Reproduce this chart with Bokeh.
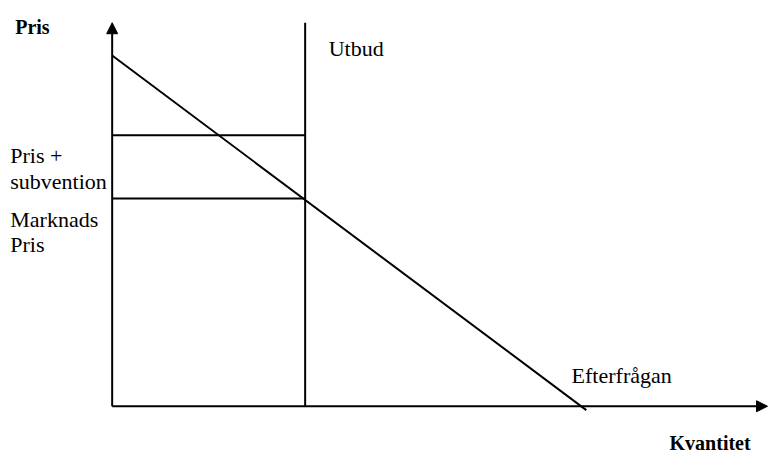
from bokeh.plotting import figure
from bokeh.models import Range1d, Arrow, NormalHead, ColumnDataSource
from bokeh.core.properties import value
from bokeh.embed import file_html
from bokeh.resources import INLINE

# Diagram values (abstract units: quantity / price)
axis_x_max = 66.9        # end of quantity axis (arrow tip)
axis_y_max = 39.7        # end of price axis (arrow tip)
demand_q = [0.0, 48.4]   # demand line quantity end points
demand_p = [36.3, -0.4]  # demand line price end points
supply_q = 19.7          # fixed supply (vertical)
supply_top = 39.7
market_price = 21.5
subsidy_price = 28.05

# Labels
label_texts = ["Pris +", "subvention", "Marknads", "Pris", "Utbud", "Efterfrågan"]
label_x = [-10.4, -10.4, -10.4, -10.4, 22.1, 46.9]
label_y = [26.0, 23.3, 19.3, 16.7, 37.0, 3.2]
bold_texts = ["Pris", "Kvantitet"]
bold_x = [-9.9, 56.9]
bold_y = [39.3, -3.8]

W, H = 768, 456
p = figure(width=W, height=H, output_backend="svg", toolbar_location=None,
           x_range=Range1d(-11.4, 67.0), y_range=Range1d(-5.2, 42.0),
           min_border=0, outline_line_color=None)
p.axis.visible = False
p.grid.visible = False
p.background_fill_color = "white"
p.border_fill_color = "white"

# axes with arrows
p.add_layout(Arrow(x_start=0, y_start=0, x_end=0, y_end=axis_y_max, line_width=2,
                   line_color="black",
                   end=NormalHead(size=11, fill_color="black", line_color="black", line_width=1)))
p.add_layout(Arrow(x_start=0, y_start=0, x_end=axis_x_max, y_end=0, line_width=2,
                   line_color="black",
                   end=NormalHead(size=11, fill_color="black", line_color="black", line_width=1)))

# demand
p.line(demand_q, demand_p, line_color="black", line_width=2)
# supply
p.line([supply_q, supply_q], [0, supply_top], line_color="black", line_width=2)
# price lines
p.line([0, supply_q], [market_price, market_price], line_color="black", line_width=2)
p.line([0, supply_q], [subsidy_price, subsidy_price], line_color="black", line_width=2)

src = ColumnDataSource(dict(x=label_x, y=label_y, t=label_texts))
p.text(x="x", y="y", text="t", source=src, text_font=value("Liberation Serif"),
       text_font_size="22px", text_color="black", text_baseline="alphabetic", text_align="left")
src2 = ColumnDataSource(dict(x=bold_x, y=bold_y, t=bold_texts))
p.text(x="x", y="y", text="t", source=src2, text_font=value("Liberation Serif"),
       text_font_size="20px", text_font_style="bold", text_color="black",
       text_baseline="alphabetic", text_align="left")

open("out.html", "w").write(file_html(p, INLINE))
